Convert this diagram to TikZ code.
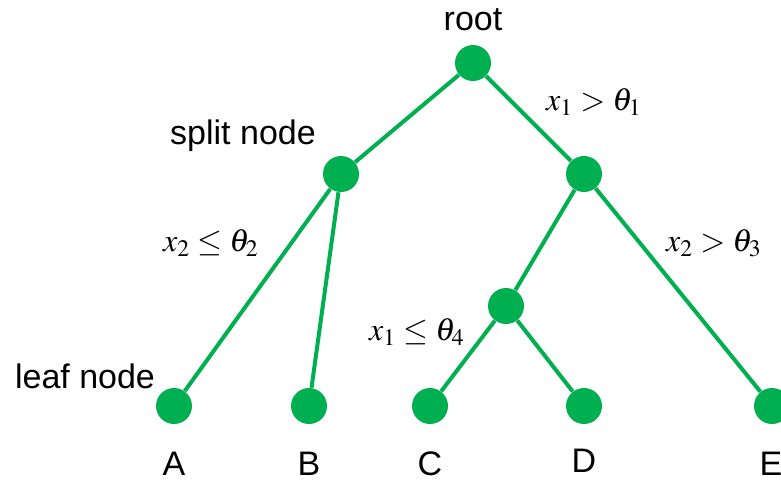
\documentclass[tikz,border=0pt]{standalone}
\usepackage{mathptmx}
\usepackage[no-math]{fontspec}
\setmainfont{Liberation Sans}
\definecolor{treegreen}{RGB}{0,176,80}
\begin{document}
\begin{tikzpicture}[x=0.5pt, y=-0.5pt,
		every node/.style={font=\fontsize{17}{20}\selectfont, inner sep=1pt},
		tnode/.style={circle, fill=treegreen, minimum size=18pt, inner sep=0pt},
		cond/.style={font=\fontsize{16}{19}\selectfont},
		edge/.style={treegreen, line width=2pt}]
	\useasboundingbox (0,0) rectangle (781,479);
	
	% === 节点 ===
	\node[tnode] (root) at (473,63) {};
	\node[tnode] (split) at (341,174) {};
	\node[tnode] (right) at (584,174) {};
	\node[tnode] (mid) at (506,306) {};
	\node[tnode] (A) at (174,406) {};
	\node[tnode] (B) at (309,406) {};
	\node[tnode] (C) at (430,406) {};
	\node[tnode] (D) at (584,406) {};
	\node[tnode] (E) at (772,406) {};
	
	% === 连线 ===
	\draw[edge] (root) -- (split);
	\draw[edge] (root) -- (right);
	\draw[edge] (split) -- (A);
	\draw[edge] (split) -- (B);
	\draw[edge] (right) -- (mid);
	\draw[edge] (right) -- (E);
	\draw[edge] (mid) -- (C);
	\draw[edge] (mid) -- (D);
	
	% === 文字 ===
	\node (rootlbl) at (473,20) {root};
	\node (splitlbl) at (243,136) {split node};
	\node (leaflbl) at (85,376) {leaf node};
	\node (Albl) at (174,464) {A};
	\node (Blbl) at (309,464) {B};
	\node (Clbl) at (430,464) {C};
	\node (Dlbl) at (584,461) {D};
	\node (Elbl) at (771,464) {E};
	
	% 分裂条件
	\node[cond] (c1) at (594,102) {$x_1 > \theta_1$};
	\node[cond] (c2) at (211,243) {$x_2 \leq \theta_2$};
	\node[cond] (c3) at (714,243) {$x_2 > \theta_3$};
	\node[cond] (c4) at (417,332) {$x_1 \leq \theta_4$};
\end{tikzpicture}
\end{document}
